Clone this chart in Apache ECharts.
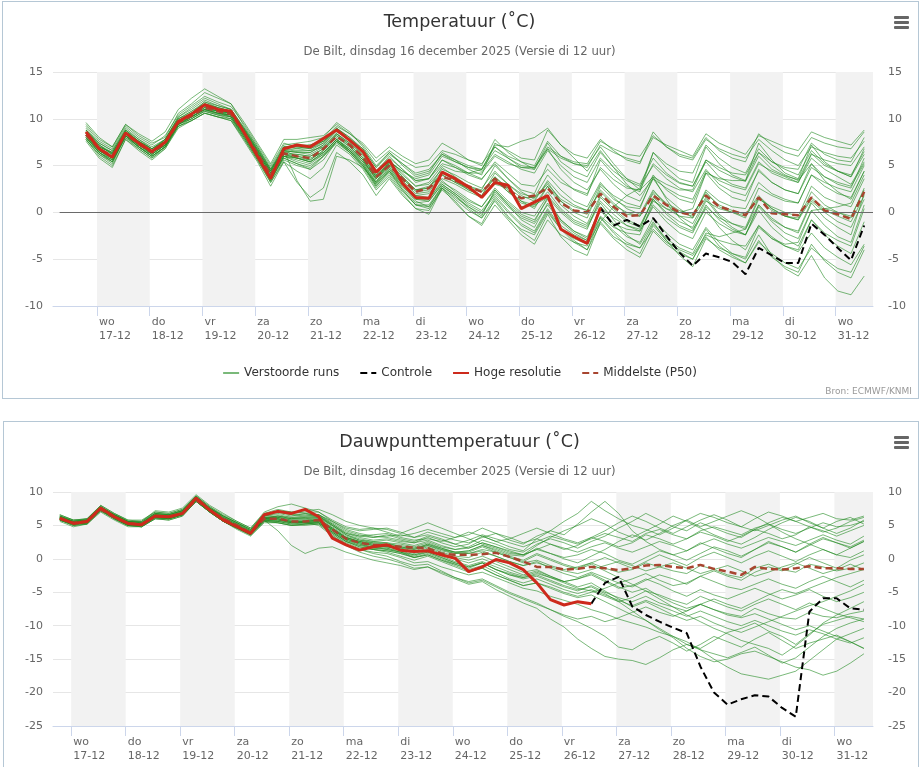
<!DOCTYPE html>
<html>
<head>
<meta charset="utf-8">
<script src="https://cdn.jsdelivr.net/npm/echarts@6/dist/echarts.min.js"></script>
<style>
  html, body { margin: 0; padding: 0; background: #fff; overflow: hidden; }
  .chart { position: absolute; left: 0; width: 919px; height: 400px; }
  .frame { position: absolute; border: 1px solid #b5c7d5; pointer-events: none; }
</style>
</head>
<body>
<div id="tempChart" class="chart" style="top:0"></div>
<div class="frame" style="left:2px; top:1px; width:915px; height:396px"></div>
<div id="dewChart" class="chart" style="top:420px"></div>
<div class="frame" style="left:3px; top:421px; width:914px; height:396px"></div>
<script>
// uren vanaf wo 17-12 00:00 (6-uurlijkse stappen)
var HOURS = [-5,1,7,13,19,25,31,37,43,49,55,61,67,73,79,85,91,97,103,109,
  115,121,127,133,139,145,151,157,163,169,175,181,187,193,199,205,211,217,223,229,
  235,241,247,253,259,265,271,277,283,289,295,301,307,313,319,325,331,337,343,349];
var DAY_NAMES = ['wo','do','vr','za','zo','ma','di','wo','do','vr','za','zo','ma','di','wo'];
var DAY_DATES = ['17-12','18-12','19-12','20-12','21-12','22-12','23-12','24-12','25-12','26-12','27-12','28-12','29-12','30-12','31-12'];
var DAY_TICKS = [0,24,48,72,96,120,144,168,192,216,240,264,288,312,336];
var BAND_STARTS = [0,48,96,144,192,240,288,336];

// ---- Temperatuur ----
var T_HRES = [8.6,6.8,5.9,8.5,7.4,6.5,7.5,9.7,10.5,11.5, 11.0,10.8,8.5,6.0,3.6,6.8,7.2,7.0,7.9,8.8,
  7.7,6.5,4.3,5.6,3.1,1.6,1.5,4.3,3.6,2.7, 1.6,3.2,2.9,0.4,1.1,1.8,-1.8,-2.6,-3.3,0.5];
var T_CONTROLE = [0.5,-1.4,-0.8,-1.5,-0.6,-2.5,-4.3,-5.7,-4.4,-4.8,-5.3,-6.6,-3.8,-4.6,-5.4,-5.4,-1.2,-2.4,-3.8,-5.1,-1.4]; // vanaf index 39
var T_P50 = [8.3,6.8,6.0,8.4,7.3,6.4,7.4,9.6,10.3,11.2, 10.8,10.5,8.5,6.3,4.0,6.3,6.0,5.8,6.8,8.1,
  7.2,5.9,3.8,5.0,3.6,2.2,2.6,3.8,3.4,2.8, 2.2,3.6,2.4,1.5,1.8,2.6,1.0,0.2,0.0,2.0,
  0.6,-0.4,-0.3,1.8,0.8,0.0,-0.3,1.8,0.6,0.2, -0.3,1.6,-0.1,-0.2,-0.3,1.6,0.2,-0.2,-0.7,2.2];

var T_RUN_01 = [8.6,7.0,6.3,8.8,7.5,6.6,7.8,10.0,10.8,11.6,11.0,10.7, 8.9,6.7,4.4,6.8,6.5,6.4,7.2,8.6,7.8,6.5,4.5,5.8,
  4.6,3.4,3.6,5.2,4.8,4.0,3.5,5.4,4.2,3.0,2.8,4.6, 3.2,2.5,2.0,4.8,3.5,2.6,2.4,5.2,4.0,3.1,2.8,5.6, 4.5,3.8,3.3,6.0,4.6,3.9,3.5,6.3,5.0,4.4,4.0,6.5];
var T_RUN_02 = [8.0,6.4,5.6,8.0,7.0,6.0,7.0,9.2,10.0,10.9,10.5,10.2, 8.0,5.8,3.4,5.8,5.2,4.6,5.6,7.6,6.4,5.0,3.0,4.4,
  2.6,1.0,1.2,3.0,2.0,1.0,0.2,2.0,0.6,-0.6,-1.2,0.8, -1.0,-2.2,-3.0,-0.5,-2.0,-3.2,-3.8,-1.2,-2.8,-3.8,-4.4,-1.8, -3.6,-4.6,-5.4,-3.0,-4.8,-5.8,-6.4,-3.4,-5.2,-6.4,-7.0,-4.0];
var T_RUN_03 = [9.2,7.6,6.8,9.2,8.0,7.2,8.2,10.4,11.4,12.4,11.8,11.3, 9.4,7.2,5.0,7.4,7.0,7.2,7.8,9.2,8.4,7.2,5.4,6.6,
  5.6,4.8,5.0,6.6,6.2,5.6,5.2,7.0,6.0,5.4,5.0,7.6, 6.0,5.2,4.8,7.2,6.4,5.8,5.4,8.0,7.2,6.6,6.0,8.4, 7.4,6.8,6.2,8.2,7.6,7.0,6.6,8.6,8.0,7.6,7.2,8.8];
var T_RUN_04 = [7.6,5.8,4.8,7.8,6.6,5.6,6.8,9.0,9.8,10.6,10.2,9.8, 7.6,5.4,2.8,5.4,3.2,1.6,2.6,6.4,5.4,4.0,1.8,3.6,
  1.8,0.4,-0.2,2.6,1.6,0.6,-0.4,2.4,0.8,-0.8,-1.6,1.0, -0.8,-2.0,-2.8,0.6,-0.6,-1.4,-1.8,1.6,0.4,-0.4,-0.6,2.4, 1.2,0.6,0.4,3.2,2.0,1.4,1.0,4.0,2.8,2.0,1.6,4.4];
var T_RUN_05 = [8.4,6.6,5.8,8.6,7.4,6.2,7.2,9.4,10.2,11.0,10.6,10.4, 8.2,6.0,3.8,6.0,5.8,5.6,6.6,8.0,7.0,5.6,3.6,4.8,
  3.2,1.8,2.0,3.6,3.0,2.2,1.6,3.4,2.2,1.2,0.4,2.8, 0.8,-0.4,-1.2,1.8,0.4,-0.8,-1.4,1.4,0.0,-1.0,-1.6,1.2, 0.4,0.0,-0.6,2.6,1.8,1.2,1.0,4.0,3.2,2.6,2.2,5.0];
var T_RUN_06 = [8.2,6.8,6.0,8.2,7.2,6.4,7.4,9.8,10.6,11.6,11.2,10.8, 8.6,6.4,4.2,6.4,6.2,6.0,6.8,8.2,7.0,5.6,3.4,4.6,
  3.0,1.6,1.4,3.2,2.4,1.4,0.6,2.4,1.0,-0.2,-0.8,1.4, -0.8,-2.0,-2.6,0.2,-1.4,-2.6,-3.2,-0.6,-2.2,-3.4,-4.0,-1.6, -3.2,-4.4,-5.0,-2.4,-4.6,-6.0,-6.8,-4.6,-7.0,-8.4,-8.8,-6.8];
var T_RUN_07 = [8.8,7.4,6.6,9.0,7.8,6.8,7.8,10.2,11.2,12.2,11.6,11.0, 9.0,7.0,4.8,7.2,7.4,7.6,8.0,9.6,8.6,7.0,5.0,6.4,
  5.0,3.8,4.2,6.4,5.6,4.6,4.0,7.4,6.6,5.8,5.6,8.8, 7.2,6.2,5.8,7.8,6.6,5.6,5.2,8.6,7.0,6.2,5.8,8.0, 6.6,5.8,5.4,8.4,7.2,6.4,6.0,8.0,7.4,7.0,6.8,8.6];
var T_RUN_08 = [7.8,6.2,5.2,8.2,7.0,6.0,7.0,9.4,10.0,10.8,10.4,10.0, 7.8,5.6,3.2,5.6,5.0,4.6,6.0,7.4,6.4,4.8,2.6,4.0,
  2.2,0.8,0.6,2.8,1.8,0.6,-0.2,2.2,0.8,-0.4,-1.0,1.6, 0.0,-1.2,-1.8,1.6,0.2,-1.0,-1.6,1.4,-0.2,-1.4,-2.0,0.8, -0.8,-1.8,-2.4,0.6,-1.0,-2.2,-2.8,0.2,-1.4,-2.6,-3.2,0.8];
var T_RUN_09 = [8.6,7.2,6.2,8.4,7.4,6.6,7.6,9.8,10.4,11.2,10.8,10.6, 8.6,6.6,4.4,6.6,6.8,7.0,7.6,9.0,7.8,6.4,4.2,5.6,
  4.2,2.8,3.0,4.6,4.0,3.2,2.6,4.4,3.0,1.8,1.2,3.4, 1.8,0.8,0.2,3.0,1.8,1.0,0.6,3.6,2.6,1.8,1.4,4.4, 3.4,2.8,2.4,5.2,4.4,3.8,3.2,5.8,4.6,3.8,3.0,5.4];
var T_RUN_10 = [8.0,6.6,5.8,8.6,7.6,6.8,7.6,9.6,10.4,11.4,10.8,10.4, 8.4,6.2,4.0,6.2,6.0,5.8,6.4,7.8,6.8,5.4,3.2,4.4,
  2.8,1.4,1.2,3.0,2.0,0.8,0.0,1.8,0.2,-1.2,-2.0,0.4, -1.6,-3.0,-4.0,-0.6,-2.2,-3.6,-4.4,-1.4,-3.0,-4.2,-5.0,-2.2, -2.6,-2.2,-1.8,1.4,0.6,0.0,-0.4,2.8,1.6,1.0,0.6,3.6];
var T_RUN_11 = [9.4,7.8,7.0,9.4,8.2,7.4,8.0,10.6,11.6,12.8,12.2,11.6, 9.6,7.4,5.2,7.8,7.8,8.0,8.2,9.4,8.4,7.4,5.8,7.0,
  6.0,5.2,5.6,7.4,6.6,5.6,5.0,7.8,6.4,5.4,4.6,7.4, 5.4,4.4,3.8,6.4,4.8,3.6,3.0,5.8,4.2,3.2,2.8,5.4, 3.8,3.0,2.6,5.4,4.2,3.6,3.2,6.2,5.6,5.2,5.0,7.0];
var T_RUN_12 = [8.2,6.4,5.4,8.0,6.8,5.8,6.8,9.2,9.8,10.6,10.2,9.8, 7.8,5.6,3.2,5.4,4.4,3.6,4.8,7.2,6.2,4.6,2.4,3.8,
  2.0,0.4,0.2,2.6,1.4,0.2,-0.6,1.6,0.0,-1.4,-2.2,0.2, -1.8,-3.2,-4.0,-1.2,-2.8,-4.0,-4.8,-2.0,-3.4,-4.4,-5.0,-2.6, -4.0,-4.8,-5.4,-3.2,-4.4,-5.4,-6.0,-3.8,-5.0,-6.0,-6.4,-3.6];
var T_RUN_13 = [8.4,6.8,6.0,8.4,7.2,6.4,7.4,9.6,10.2,11.0,10.6,10.4, 8.4,6.2,4.0,6.2,5.8,5.4,6.4,7.8,6.8,5.6,3.6,5.0,
  3.4,2.0,2.2,4.0,3.2,2.4,1.8,3.8,2.4,1.2,0.8,2.8, 1.2,0.2,-0.2,2.4,1.0,-0.2,-0.4,2.2,1.0,0.2,-0.2,2.0, 0.8,0.2,-0.2,1.8,0.4,-0.4,-0.8,1.4,0.2,-0.4,-1.0,1.8];
var T_RUN_14 = [8.6,7.0,6.4,8.8,7.6,6.6,7.6,10.0,10.6,11.4,11.0,10.6, 8.6,6.4,4.2,6.6,6.4,6.4,7.2,8.8,7.6,6.2,4.0,5.6,
  4.0,2.8,3.2,5.0,4.4,4.2,4.6,7.2,7.0,7.6,8.0,9.0, 7.2,5.8,4.4,6.6,4.8,3.0,1.8,3.6,1.6,0.4,-0.6,1.6, -0.2,-1.2,-1.8,0.8,-0.8,-1.6,-2.0,1.2,0.0,-1.0,-1.6,1.4];
var T_RUN_15 = [8.2,6.6,5.8,8.2,7.0,6.2,7.2,9.4,10.0,10.8,10.4,10.2, 8.2,6.0,3.6,6.0,5.6,5.2,6.2,7.8,6.6,5.2,3.0,4.6,
  2.8,1.2,0.6,2.6,1.0,-0.4,-1.2,1.4,-0.4,-2.0,-3.0,-0.2, -2.6,-4.0,-4.6,-1.0,0.6,1.8,2.6,6.4,5.2,4.4,4.2,7.2, 5.8,4.8,4.2,6.8,5.4,4.6,4.0,6.6,5.2,4.4,3.8,6.2];
var T_RUN_16 = [8.8,7.2,6.2,8.6,7.6,6.8,7.6,9.8,10.6,11.8,11.4,11.0, 8.8,6.6,4.4,6.6,6.0,5.6,6.6,8.4,7.4,6.2,4.0,5.2,
  3.8,2.4,2.6,4.4,3.4,2.4,1.8,4.2,3.0,2.0,1.6,4.0, 2.4,1.2,0.6,3.2,1.6,0.4,-0.2,2.4,0.8,-0.4,-1.2,1.4, -0.4,-1.6,-2.4,0.2,-1.6,-2.8,-3.6,-0.8,-2.4,-3.6,-4.4,-1.0];
var T_RUN_17 = [7.8,6.0,5.0,7.8,6.8,5.8,7.0,9.4,10.2,11.0,10.6,10.2, 8.0,5.8,3.6,5.8,5.2,4.8,6.0,7.6,6.6,5.0,2.8,4.4,
  2.4,0.8,0.4,2.4,1.2,-0.4,-1.4,0.8,-0.8,-2.4,-3.4,-0.8, -2.4,-3.2,-3.6,-0.4,-1.6,-2.2,-2.4,1.2,0.4,0.0,0.4,4.2, 3.6,3.4,3.4,6.4,5.4,4.8,4.6,7.4,6.2,5.6,5.4,8.0];
var T_RUN_18 = [8.0,6.4,5.6,8.2,7.2,6.4,7.2,9.6,10.4,11.2,10.8,10.6, 8.6,6.4,4.2,6.4,6.6,6.6,7.0,8.4,7.4,6.0,3.8,5.2,
  3.6,2.2,2.4,4.2,3.6,2.8,2.2,3.6,2.2,1.0,0.6,2.2, 0.4,-0.8,-1.4,1.2,-0.2,-1.4,-2.0,0.6,-1.0,-2.2,-2.8,0.0, -1.2,-2.0,-2.4,0.8,-0.6,-1.6,-2.2,1.0,-0.6,-1.6,-2.4,2.0];
var T_RUN_19 = [8.4,7.0,6.4,8.6,7.4,6.6,7.6,9.8,10.6,11.6,11.2,10.8, 8.8,6.8,4.6,6.6,3.4,1.2,1.4,6.0,5.6,4.8,3.2,5.4,
  4.4,3.6,4.0,6.0,5.4,4.8,4.4,6.2,5.4,4.6,4.2,6.6, 5.0,3.8,3.2,5.8,4.4,3.4,2.8,5.0,3.6,2.6,2.2,4.6, 3.0,2.2,1.8,4.4,3.2,2.4,2.0,4.8,3.8,3.2,2.8,5.2];
var T_RUN_20 = [9.6,8.0,7.0,9.4,8.4,7.6,8.6,11.0,12.2,13.2,12.4,11.6, 9.2,7.0,4.6,7.0,6.8,6.6,7.4,9.0,8.0,6.6,4.4,6.0,
  4.6,3.2,3.6,5.6,5.0,4.2,3.6,5.2,3.6,2.2,1.4,3.2, 1.2,0.0,-0.6,2.8,1.4,0.6,0.4,3.8,3.0,2.4,2.4,5.6, 4.8,4.2,4.0,6.4,5.0,4.0,3.4,5.2,3.4,2.2,1.4,4.4];
var T_RUN_21 = [8.4,6.6,5.6,8.4,7.2,6.2,7.2,9.6,10.6,11.4,11.0,10.6, 8.4,6.2,3.8,6.6,6.4,6.2,7.0,8.4,7.2,5.8,3.8,5.4,
  3.8,2.4,2.6,4.8,3.8,2.8,2.4,5.0,3.6,2.4,2.0,5.2, 3.6,2.4,1.8,5.6,4.0,2.8,2.2,6.4,4.8,3.6,3.2,7.0, 5.2,4.0,3.4,7.4,5.6,4.2,3.6,7.2,5.4,4.4,3.8,6.8];
var T_RUN_22 = [8.2,6.6,5.8,8.6,7.4,6.4,7.4,9.6,10.2,11.0,10.6,10.4, 8.4,6.2,3.8,6.2,5.8,5.4,6.4,7.8,6.6,5.2,3.2,4.8,
  3.0,1.4,1.4,3.4,2.2,1.2,0.6,2.6,1.2,0.0,-0.4,1.8, 0.2,-1.0,-1.6,1.0,-0.8,-2.4,-3.4,-1.0,-3.0,-4.6,-5.8,-2.8, -3.8,-4.4,-4.8,-1.6,-2.8,-3.6,-4.0,-0.8,-2.2,-3.0,-3.6,0.4];
var T_RUN_23 = [9.0,7.4,6.6,8.8,7.8,7.0,7.8,10.2,11.0,12.0,11.4,11.0, 9.0,6.8,4.6,7.0,7.2,7.2,7.6,9.0,8.0,6.8,4.8,6.2,
  5.2,4.2,4.6,6.2,5.6,5.0,4.6,6.6,5.8,5.0,4.8,7.0, 6.0,5.4,5.2,7.6,6.8,6.2,6.0,8.2,7.0,6.0,5.6,7.8, 6.8,6.2,5.8,7.8,6.6,5.6,5.0,7.0,6.4,6.0,5.8,7.6];
var T_RUN_24 = [8.6,6.8,5.8,8.4,7.4,6.4,7.6,9.8,10.4,11.4,11.0,10.8, 8.6,6.2,3.8,6.8,7.0,6.8,7.6,8.8,7.6,6.4,4.2,5.4,
  3.2,1.8,1.6,4.2,3.4,2.6,1.6,3.0,2.6,0.6,0.8,1.6, -1.4,-2.4,-3.0,0.4,-1.2,-1.8,-2.0,0.8,-0.6,-1.6,-2.2,0.6, -0.6,-1.2,-1.6,1.6,0.4,-0.4,-0.8,2.2,0.8,0.0,-0.6,2.6];
var T_RUN_25 = [7.8,6.2,5.4,8.2,7.0,6.0,7.0,9.2,9.8,10.6,10.2,10.0, 8.0,5.8,3.4,6.0,5.4,5.0,6.0,7.6,6.6,5.4,3.6,5.4,
  4.4,3.4,3.6,5.6,4.8,4.2,4.2,6.0,5.2,4.8,4.8,6.8, 5.8,5.2,5.0,7.0,5.2,3.6,2.4,3.8,1.4,-0.6,-1.8,0.4, -1.6,-3.0,-4.0,-1.4,-2.8,-3.4,-3.2,0.2,0.4,0.6,1.0,4.0];
var T_RUN_26 = [8.2,6.8,6.2,8.6,7.2,6.2,7.2,9.4,10.2,11.0,10.8,10.6, 8.6,6.4,4.2,6.2,6.2,6.0,6.8,8.2,7.2,5.8,3.8,5.0,
  3.6,2.4,2.8,4.0,3.2,2.6,2.2,3.8,2.6,1.6,1.6,3.0, 1.4,0.6,0.2,2.2,0.8,0.0,-0.4,2.0,0.8,0.0,-0.4,2.2, 0.6,0.0,-0.4,1.6,0.2,-0.4,-0.6,1.6,0.4,0.0,-0.4,2.4];
var T_RUN_27 = [8.0,6.4,5.4,8.2,7.0,6.0,7.0,9.4,10.2,11.2,10.8,10.2, 8.2,6.0,3.4,6.0,5.8,5.4,6.2,7.6,6.4,5.0,2.8,4.2,
  2.4,0.8,0.8,2.8,1.8,0.4,-0.6,1.2,-0.6,-1.8,-2.4,0.0, -1.8,-2.8,-3.4,-1.0,-2.6,-3.4,-3.8,-1.8,-3.2,-4.0,-4.6,-2.4, -3.0,-3.4,-3.6,-1.4,-2.6,-3.6,-4.2,-2.2,-3.8,-4.8,-5.6,-3.4];
var T_RUN_28 = [8.8,7.2,6.4,8.6,7.6,6.8,7.8,10.0,10.8,11.8,11.2,10.8, 8.8,6.6,4.4,7.0,7.0,6.8,7.4,8.8,7.8,6.8,4.8,6.4,
  5.2,4.0,4.4,6.2,5.4,4.8,4.6,7.0,5.8,4.8,4.6,6.8, 4.6,3.2,2.4,4.6,3.0,1.8,1.2,4.0,2.4,1.4,1.0,4.2, 2.6,1.6,1.2,4.6,3.2,2.4,2.0,5.2,3.8,3.0,2.6,5.8];
var T_RUNS = [T_RUN_01,T_RUN_02,T_RUN_03,T_RUN_04,T_RUN_05,T_RUN_06,T_RUN_07,T_RUN_08,T_RUN_09,T_RUN_10,
  T_RUN_11,T_RUN_12,T_RUN_13,T_RUN_14,T_RUN_15,T_RUN_16,T_RUN_17,T_RUN_18,T_RUN_19,T_RUN_20,
  T_RUN_21,T_RUN_22,T_RUN_23,T_RUN_24,T_RUN_25,T_RUN_26,T_RUN_27,T_RUN_28];

// ---- Dauwpunt ----
var D_HRES = [6.1,5.3,5.6,7.6,6.3,5.3,5.1,6.4,6.3,6.8, 9.1,7.3,5.8,4.8,3.8,6.6,7.1,6.8,7.4,6.3,
  3.1,2.1,1.3,1.8,2.1,1.3,1.1,1.2,0.6,0.1, -1.9,-1.2,-0.1,-0.6,-1.6,-3.6,-6.1,-6.9,-6.4,-6.7];
var D_CONTROLE = [-6.7,-3.6,-2.7,-7.1,-8.4,-9.4,-10.3,-11.1,-16.1,-20.0,-21.8,-21.0,-20.4,-20.6,-22.3,-23.6,-7.9,-5.9,-5.9,-7.4,-7.6]; // vanaf index 39
var D_P50 = [6.0,5.4,5.6,7.4,6.2,5.3,5.2,6.4,6.2,6.8, 8.8,7.3,6.0,5.0,3.9,6.0,6.0,5.6,5.6,5.8,
  4.4,3.0,2.4,2.1,2.0,1.8,1.7,1.6,0.8,0.6, 0.6,0.7,0.9,0.3,-0.4,-1.2,-1.2,-1.6,-1.5,-1.2,
  -1.4,-1.7,-1.4,-1.0,-0.9,-1.2,-1.4,-0.9,-1.5,-1.9, -2.4,-1.2,-1.5,-1.6,-1.4,-1.1,-1.4,-1.4,-1.5,-1.5];

var D_RUN_01 = [6.4,5.6,5.8,7.8,6.6,5.6,5.6,6.8,6.6,7.2,9.2,7.6, 6.2,5.2,4.2,6.4,6.6,6.2,6.4,6.6,5.4,4.2,3.6,3.2,
  3.6,3.0,2.6,3.4,2.8,2.2,2.8,3.6,3.0,2.4,1.8,2.6, 3.4,2.8,2.2,3.0,3.8,3.2,2.6,3.8,4.4,3.6,3.0,4.2, 4.8,4.2,3.6,4.6,5.2,4.4,3.8,4.6,5.4,4.8,5.0,5.6];
var D_RUN_02 = [5.8,5.0,5.2,7.2,6.0,5.0,4.8,6.0,6.0,6.6,8.8,7.0, 5.6,4.6,3.6,5.8,5.6,5.2,5.4,5.0,3.4,2.2,1.4,1.0,
  0.8,0.2,-0.6,-0.4,-1.2,-1.8,-2.4,-2.0,-2.8,-3.6,-4.4,-4.8, -5.6,-6.2,-6.8,-7.6,-8.2,-9.0,-9.6,-10.2,-11.0,-11.6,-12.4,-13.6, -15.0,-16.2,-17.2,-17.6,-18.0,-17.4,-16.8,-15.2,-13.6,-12.0,-11.2,-10.4];
var D_RUN_03 = [6.2,5.6,6.0,8.0,6.8,5.8,5.6,7.2,7.0,7.6,9.6,8.0, 6.8,5.6,4.6,7.0,7.8,8.2,7.6,7.0,5.8,4.8,4.4,4.6,
  4.0,3.4,3.8,4.4,3.8,3.2,3.6,4.6,3.8,2.8,2.2,3.4, 4.2,5.6,6.8,8.6,7.2,6.0,5.0,4.4,3.6,4.6,5.8,6.8, 6.2,5.4,4.8,6.0,7.0,6.4,5.6,6.2,6.8,6.0,5.8,6.4];
var D_RUN_04 = [6.0,5.2,5.4,7.4,6.2,5.2,5.0,6.2,6.0,6.6,8.6,7.0, 5.6,4.6,3.6,5.6,5.4,5.0,5.2,5.4,4.0,2.6,1.8,1.4,
  1.2,0.8,0.2,0.6,-0.2,-0.8,-1.4,-0.6,-1.6,-2.4,-3.0,-2.6, -3.4,-4.2,-4.8,-4.0,-5.0,-5.8,-6.4,-5.6,-6.6,-7.2,-7.8,-6.8, -7.6,-8.2,-8.6,-7.4,-8.2,-8.8,-9.0,-8.0,-8.6,-8.8,-8.2,-7.8];
var D_RUN_05 = [6.0,5.4,5.8,7.6,6.4,5.4,5.2,6.6,6.4,7.0,9.0,7.4, 6.0,5.0,4.0,6.2,6.2,5.8,5.8,6.0,4.6,3.2,2.6,2.2,
  2.2,2.0,1.6,2.0,1.2,0.8,0.8,1.4,1.0,0.2,-0.6,-0.2, -1.0,-1.6,-1.2,-0.6,-1.4,-2.0,-1.6,-0.6,-1.2,-1.8,-2.2,-1.0, -1.6,-2.4,-2.8,-1.4,-0.8,-1.6,-2.0,-0.8,-1.2,-1.8,-1.4,-0.6];
var D_RUN_06 = [6.2,5.4,5.6,7.4,6.4,5.4,5.2,6.4,6.2,6.8,9.0,7.2, 5.8,4.8,3.8,5.8,4.2,2.0,0.8,1.6,1.8,1.0,0.4,-0.2,
  -0.6,-1.0,-1.6,-1.2,-2.0,-2.8,-3.4,-3.0,-4.0,-5.0,-5.8,-6.6, -7.6,-8.6,-9.4,-10.4,-11.6,-13.2,-13.6,-12.4,-11.6,-12.6,-13.8,-12.8, -11.6,-12.4,-13.2,-12.0,-11.0,-12.2,-13.4,-12.6,-12.0,-11.4,-12.4,-13.4];
var D_RUN_07 = [6.2,5.6,5.6,7.6,6.4,5.4,5.4,6.6,6.4,7.0,9.2,7.4, 6.0,5.0,4.0,6.4,6.8,6.4,6.8,6.6,5.2,3.8,3.2,2.8,
  3.0,2.6,2.4,3.2,2.4,1.8,2.2,3.4,2.6,1.8,1.2,3.0, 4.2,3.6,5.2,7.0,8.6,6.8,4.2,2.6,1.4,0.6,1.2,2.4, 1.6,0.8,0.2,1.4,2.6,1.8,1.0,2.2,3.2,2.4,1.8,2.8];
var D_RUN_08 = [5.6,4.8,5.2,7.0,5.8,4.8,4.8,6.0,5.8,6.4,8.6,7.0, 5.6,4.6,3.6,5.8,5.8,5.4,5.6,5.6,4.4,3.0,2.2,1.6,
  1.6,1.2,0.6,1.0,0.2,-0.6,-1.2,-0.6,-1.6,-2.2,-2.8,-2.4, -3.2,-4.0,-4.6,-4.2,-5.2,-6.4,-7.8,-9.2,-10.6,-11.8,-13.4,-14.6, -15.4,-15.0,-14.2,-13.8,-14.6,-15.4,-16.2,-16.6,-17.4,-16.8,-15.6,-14.2];
var D_RUN_09 = [6.2,5.4,5.4,7.4,6.2,5.2,5.0,6.4,6.2,6.8,8.8,7.2, 5.8,4.8,3.8,6.0,6.0,5.4,5.4,5.4,3.8,2.4,1.6,1.4,
  1.0,0.4,-0.2,0.4,-0.4,-1.2,-2.0,-1.4,-2.4,-3.2,-4.0,-3.6, -4.2,-5.0,-5.6,-5.0,-4.4,-3.6,-4.2,-3.2,-2.4,-3.0,-3.8,-2.6, -1.8,-2.6,-3.2,-2.0,-1.2,-1.8,-0.8,0.2,-0.6,-1.4,-0.2,0.6];
var D_RUN_10 = [6.4,5.8,6.0,7.8,6.6,5.6,5.6,7.0,6.8,7.4,9.4,7.8, 6.4,5.4,4.4,6.8,7.4,7.0,6.8,6.4,5.0,3.8,3.4,3.6,
  3.8,3.2,2.8,3.0,2.6,3.2,4.0,3.4,2.6,3.0,3.8,4.6, 3.8,3.0,2.4,3.2,4.2,5.4,6.4,5.6,4.6,3.8,4.8,5.8, 6.6,5.8,4.8,4.2,5.0,5.8,6.4,5.4,4.6,5.6,6.2,5.2];
var D_RUN_11 = [5.8,5.2,5.4,7.2,6.0,5.0,4.8,6.2,6.0,6.6,8.6,7.0, 5.6,4.4,3.4,5.4,5.4,5.0,5.0,5.2,3.6,2.0,1.0,0.4,
  0.0,-0.6,-1.4,-1.2,-2.2,-3.0,-3.8,-3.4,-4.6,-5.6,-6.6,-7.4, -9.0,-10.2,-12.0,-13.4,-14.6,-15.0,-15.2,-15.8,-14.8,-13.6,-12.8,-13.4, -12.2,-11.0,-10.4,-9.6,-10.8,-11.6,-12.8,-11.2,-9.8,-9.2,-8.6,-9.0];
var D_RUN_12 = [6.6,5.8,5.8,7.6,6.6,5.6,5.4,6.6,6.6,7.2,9.0,7.6, 6.2,5.2,4.2,6.2,6.2,6.0,6.2,6.2,5.0,3.6,3.0,2.6,
  2.8,2.4,2.0,2.6,1.8,1.4,1.6,2.4,1.8,1.2,0.6,1.4, 2.2,1.6,1.0,1.8,2.4,1.6,1.0,1.8,2.6,2.0,1.2,2.2, 3.0,2.2,1.6,2.4,3.2,2.6,2.0,2.8,3.6,2.8,2.2,3.4];
var D_RUN_13 = [5.8,5.0,5.4,7.4,6.0,5.0,5.0,6.2,6.0,6.6,8.8,7.2, 5.8,4.8,3.8,5.8,5.6,5.4,5.6,5.8,4.4,3.0,2.4,2.0,
  1.8,1.4,1.0,1.6,0.8,0.2,-0.2,0.4,-0.4,-1.2,-2.0,-1.6, -2.6,-3.4,-4.2,-3.6,-4.8,-6.0,-7.2,-6.4,-7.4,-8.4,-9.2,-8.6, -9.6,-10.4,-11.0,-10.2,-9.4,-8.6,-7.8,-7.0,-6.4,-5.6,-4.8,-3.8];
var D_RUN_14 = [6.0,5.4,5.6,7.6,6.2,5.2,5.2,6.6,6.2,6.8,9.0,7.2, 5.8,4.8,3.8,6.2,6.4,6.2,6.2,6.4,5.0,3.6,2.8,2.6,
  2.4,1.8,1.4,2.2,1.6,1.0,1.2,2.0,1.4,0.6,0.4,1.6, 0.8,0.0,-0.6,0.4,1.4,2.6,3.6,2.8,3.8,5.0,5.8,4.8, 5.6,6.4,7.2,6.4,5.2,4.0,3.0,2.2,1.4,0.6,1.6,2.6];
var D_RUN_15 = [6.2,5.6,5.8,7.6,6.4,5.4,5.2,6.4,6.4,7.0,9.0,7.4, 6.2,5.2,4.0,6.0,6.0,5.6,5.6,5.8,4.4,3.0,2.4,2.0,
  1.8,1.6,1.2,1.8,1.0,0.4,0.2,1.0,0.4,-0.4,-1.0,-0.4, -1.4,-2.2,-2.8,-2.0,-2.8,-3.6,-3.0,-2.2,-3.2,-4.0,-3.6,-2.6, -3.4,-4.2,-4.6,-3.8,-3.0,-3.8,-4.4,-3.4,-2.6,-3.4,-4.2,-3.2];
var D_RUN_16 = [6.0,5.2,5.6,7.4,6.2,5.2,5.0,6.4,6.2,6.8,8.8,7.2, 5.8,4.8,3.8,6.0,6.4,6.0,6.0,6.0,4.6,3.2,2.6,2.4,
  2.2,1.8,1.4,2.0,1.4,0.8,1.0,1.8,1.0,0.2,-0.4,0.6, -0.2,-1.0,-1.6,-0.8,-1.8,-2.8,-3.8,-4.8,-6.0,-7.2,-8.4,-9.4, -10.4,-11.2,-12.2,-12.8,-13.4,-14.4,-13.0,-11.4,-9.6,-8.4,-7.4,-6.4];
var D_RUN_17 = [6.4,5.6,5.8,7.8,6.6,5.6,5.4,6.8,6.6,7.2,9.4,7.6, 6.4,5.4,4.4,6.6,7.2,6.8,7.0,7.0,5.6,4.4,3.8,3.4,
  3.2,2.8,2.4,2.8,2.0,1.4,1.8,2.8,2.2,1.4,1.0,2.2, 3.0,2.4,1.6,2.6,3.4,4.6,5.6,6.8,5.8,4.8,4.2,5.4, 4.6,3.8,3.2,4.4,5.4,6.2,5.6,4.8,4.0,4.6,5.6,6.2];
var D_RUN_18 = [5.8,5.2,5.4,7.4,6.2,5.2,5.0,6.2,6.0,6.6,8.8,7.2, 5.8,4.8,3.8,5.8,6.0,5.6,5.4,5.4,4.0,2.6,2.0,1.8,
  1.4,1.0,0.6,1.2,0.4,-0.4,-1.0,-0.4,-1.2,-2.0,-2.6,-2.0, -2.8,-3.6,-4.4,-4.8,-5.6,-6.4,-5.8,-4.8,-5.4,-6.2,-6.8,-5.6, -6.4,-7.2,-7.8,-6.8,-6.0,-6.8,-7.6,-6.6,-7.4,-8.2,-8.8,-9.4];
var D_RUN_19 = [6.2,5.4,5.6,7.6,6.4,5.4,5.2,6.6,6.4,7.0,9.0,7.4, 6.0,5.0,4.0,6.2,6.4,6.0,6.0,6.2,4.8,3.4,2.8,2.4,
  2.4,2.2,1.8,2.4,1.6,1.0,1.2,2.0,1.2,0.4,-0.2,0.8, 0.0,-0.8,-1.4,-0.6,0.2,-0.6,-1.4,-0.4,0.6,-0.2,-1.0,0.2, 1.0,0.2,-0.6,0.4,1.2,0.4,-0.4,0.6,1.4,0.6,0.2,1.2];
var D_RUN_20 = [6.0,5.2,5.4,7.4,6.2,5.2,5.0,6.4,6.2,6.8,8.8,7.2, 5.8,4.8,3.8,6.0,6.2,5.8,5.8,5.8,4.6,3.2,2.4,2.0,
  1.8,1.4,0.8,1.4,0.6,0.0,-0.6,0.0,-0.8,-1.6,-2.4,-1.8, -2.6,-3.4,-3.0,-2.2,-3.2,-4.2,-5.0,-4.4,-5.6,-6.6,-7.4,-6.8, -7.6,-8.4,-8.8,-8.2,-9.0,-9.8,-10.6,-10.0,-10.8,-11.6,-12.4,-13.4];
var D_RUN_21 = [6.2,5.4,5.8,7.8,6.6,5.6,5.4,6.8,6.6,7.2,9.2,7.6, 6.4,5.4,4.2,6.4,7.0,6.6,6.4,6.4,5.2,4.0,3.4,3.2,
  3.4,3.6,3.2,4.0,3.4,2.8,2.4,3.2,3.8,3.2,2.4,3.0, 2.2,1.4,2.0,3.2,2.6,1.8,2.4,3.6,3.0,2.2,3.0,4.0, 3.4,2.6,3.4,4.4,3.8,3.0,3.6,4.8,4.2,3.4,4.2,5.0];
var D_RUN_22 = [6.0,5.2,5.4,7.4,6.2,5.2,5.0,6.4,6.2,6.8,8.8,7.2, 5.8,4.8,3.8,6.0,5.8,5.4,5.4,5.6,4.2,2.8,2.2,1.8,
  1.6,1.0,0.4,1.0,0.2,-0.6,-1.2,-0.6,-1.6,-2.4,-2.8,-2.2, -2.8,-3.4,-3.0,-2.4,-3.4,-4.4,-4.0,-3.0,-3.8,-4.8,-5.6,-4.6, -5.4,-6.0,-5.2,-4.4,-5.2,-6.0,-5.4,-4.6,-5.6,-6.4,-5.8,-5.0];
var D_RUN_23 = [6.6,5.8,6.0,8.0,6.8,5.8,5.8,7.0,6.8,7.4,9.4,7.8, 6.6,5.6,4.6,6.8,7.0,6.6,6.6,6.6,5.6,4.6,4.2,4.4,
  4.6,4.0,3.2,3.6,3.0,2.2,1.6,2.4,1.8,1.0,0.6,2.0, 3.2,4.2,5.0,6.0,5.2,4.0,3.2,4.2,5.2,6.4,5.6,4.6, 3.6,2.8,2.2,3.2,4.4,5.4,6.2,5.6,4.6,3.8,4.6,5.8];
var D_RUN_24 = [5.8,5.0,5.2,7.2,6.0,5.0,4.8,6.0,5.8,6.4,8.6,7.0, 5.6,4.6,3.6,5.6,5.4,5.0,5.2,5.2,3.8,2.2,1.4,0.8,
  0.4,-0.4,-1.0,-0.8,-1.8,-2.8,-3.6,-3.2,-4.2,-5.2,-6.0,-6.8, -7.6,-8.4,-9.0,-8.6,-9.4,-8.8,-8.0,-7.2,-8.0,-8.6,-7.8,-6.8, -6.0,-6.8,-7.4,-6.4,-5.4,-4.6,-5.2,-4.4,-3.6,-2.8,-2.2,-1.6];
var D_RUN_25 = [6.2,5.4,5.6,7.4,6.2,5.4,5.2,6.4,6.2,6.8,8.8,7.4, 6.0,5.0,4.0,6.0,6.0,5.6,5.6,5.8,4.4,3.2,2.6,2.2,
  2.0,1.6,1.6,2.2,1.4,1.0,0.8,1.2,0.4,-0.4,-1.0,-0.6, -1.2,-1.8,-2.2,-1.6,-1.0,-0.4,-1.0,-1.8,-1.2,-0.6,-1.4,-2.2, -1.6,-1.0,-1.8,-2.6,-2.0,-1.2,-0.6,-1.4,-2.2,-1.6,-0.8,-1.6];
var D_RUN_26 = [5.8,5.2,5.4,7.2,6.0,5.0,5.0,6.2,6.0,6.6,8.6,7.0, 5.6,4.6,3.6,5.6,5.6,5.2,5.2,5.4,4.0,2.6,1.8,1.4,
  1.2,0.8,0.2,0.6,-0.2,-1.0,-1.8,-1.4,-2.4,-3.2,-4.0,-3.6, -4.4,-5.2,-5.8,-5.4,-6.4,-7.4,-8.4,-9.2,-10.4,-11.6,-12.8,-13.6, -14.2,-14.8,-14.0,-13.2,-14.4,-15.6,-14.8,-13.2,-11.6,-10.4,-9.6,-9.0];
var D_RUN_27 = [6.4,5.6,5.8,7.6,6.6,5.6,5.4,6.8,6.6,7.2,9.2,7.6, 6.4,5.4,4.4,6.6,7.2,7.0,7.2,7.4,6.6,5.6,5.0,4.6,
  4.4,3.8,4.6,5.4,4.6,3.8,3.0,2.2,1.6,0.8,0.6,1.4, 0.8,0.2,0.6,1.4,0.8,-0.2,-0.8,0.2,1.2,0.6,-0.2,0.8, 1.8,1.2,0.4,1.4,2.4,1.8,1.0,2.0,3.0,2.4,1.6,2.6];
var D_RUN_28 = [6.0,5.2,5.6,7.4,6.2,5.2,5.0,6.4,6.2,6.8,8.8,7.2, 5.8,4.8,3.8,5.8,5.8,5.6,5.4,5.6,4.2,2.8,2.0,1.6,
  1.4,1.0,0.2,0.8,0.0,-0.8,-1.6,-1.0,-2.0,-3.0,-3.6,-3.0, -3.8,-4.6,-5.2,-4.6,-5.4,-6.2,-7.0,-6.2,-7.0,-7.8,-8.6,-7.8, -8.6,-9.4,-10.0,-9.2,-10.0,-10.8,-11.4,-10.6,-11.2,-12.0,-12.6,-11.8];
var D_RUNS = [D_RUN_01,D_RUN_02,D_RUN_03,D_RUN_04,D_RUN_05,D_RUN_06,D_RUN_07,D_RUN_08,D_RUN_09,D_RUN_10,
  D_RUN_11,D_RUN_12,D_RUN_13,D_RUN_14,D_RUN_15,D_RUN_16,D_RUN_17,D_RUN_18,D_RUN_19,D_RUN_20,
  D_RUN_21,D_RUN_22,D_RUN_23,D_RUN_24,D_RUN_25,D_RUN_26,D_RUN_27,D_RUN_28];

var FONT = 'DejaVu Sans';
var SUBTITLE = 'De Bilt, dinsdag 16 december 2025 (Versie di 12 uur)';

function pairs(values, offset) {
  return values.map(function (v, i) { return [HOURS[i + offset], v]; });
}

function buildOption(cfg) {
  var series = [];
  // grijze dagbanden
  series.push({
    type: 'line', data: [], z: 0, silent: true,
    markArea: {
      silent: true,
      itemStyle: { color: '#f2f2f2' },
      data: BAND_STARTS.map(function (s) {
        return [{ xAxis: s }, { xAxis: Math.min(s + 24, cfg.xMax) }];
      })
    }
  });
  if (cfg.zeroLine) {
    series.push({
      type: 'line', data: [], z: 1, silent: true,
      markLine: {
        silent: true, symbol: 'none', label: { show: false },
        lineStyle: { color: '#6a6a6a', width: 1, type: 'solid' },
        data: [[{ coord: [-17, 0] }, { coord: [cfg.xMax, 0] }]]
      }
    });
  }
  cfg.runs.forEach(function (run) {
    series.push({
      name: 'Verstoorde runs', type: 'line', data: pairs(run, 0),
      symbol: 'none', silent: true, z: 2,
      lineStyle: { color: 'rgba(34,139,34,0.6)', width: 1 },
      itemStyle: { color: 'rgba(34,139,34,0.45)' }
    });
  });
  series.push({
    name: 'Middelste (P50)', type: 'line', data: pairs(cfg.p50, 0),
    symbol: 'none', silent: true, z: 3,
    lineStyle: { color: '#a84530', width: 2.5, type: [7, 4] },
    itemStyle: { color: '#a84530' }
  });
  series.push({
    name: 'Controle', type: 'line', data: pairs(cfg.controle, 39),
    symbol: 'none', silent: true, z: 4,
    lineStyle: { color: '#000', width: 2, type: [7, 4] },
    itemStyle: { color: '#000' }
  });
  series.push({
    name: 'Hoge resolutie', type: 'line', data: pairs(cfg.hres, 0),
    symbol: 'none', silent: true, z: 5,
    lineStyle: { color: '#cd2a1c', width: 3 },
    itemStyle: { color: '#cd2a1c' }
  });

  var yLabel = { color: '#666', fontSize: 11, fontFamily: FONT };
  return {
    animation: false,
    textStyle: { fontFamily: FONT },
    title: [
      { text: cfg.title, left: 'center', top: 8,
        textStyle: { fontSize: 17.5, fontWeight: 'normal', color: '#333', fontFamily: FONT } },
      { text: SUBTITLE, left: 'center', top: 41,
        textStyle: { fontSize: 11.7, fontWeight: 'normal', color: '#666', fontFamily: FONT } }
    ],
    legend: {
      data: ['Verstoorde runs', 'Controle', 'Hoge resolutie', 'Middelste (P50)'],
      top: 362, left: 'center', itemWidth: 16, itemHeight: 14, itemGap: 20,
      itemStyle: { opacity: 0 },
      textStyle: { fontSize: 12, color: '#333', fontFamily: FONT }
    },
    grid: { left: 53, right: 46, top: 72, height: 234 },
    xAxis: {
      type: 'value', min: cfg.xMin, max: cfg.xMax, z: 1,
      axisLine: { show: true, onZero: false, lineStyle: { color: '#ccd6eb' } },
      axisTick: { show: true, customValues: DAY_TICKS, length: 10, lineStyle: { color: '#ccd6eb' } },
      axisLabel: {
        customValues: DAY_TICKS, align: 'left', margin: 9, padding: [0, 0, 0, 2],
        color: '#666', fontSize: 11, lineHeight: 14, fontFamily: FONT,
        formatter: function (v) {
          var i = Math.round(v / 24);
          return DAY_NAMES[i] + '\n' + DAY_DATES[i];
        }
      },
      splitLine: { show: false }
    },
    yAxis: [
      { type: 'value', min: cfg.yMin, max: cfg.yMax, interval: 5, position: 'left', z: 1,
        axisLine: { show: false, onZero: false }, axisTick: { show: false },
        axisLabel: Object.assign({ margin: 10 }, yLabel),
        splitLine: { lineStyle: { color: '#e6e6e6' } } },
      { type: 'value', min: cfg.yMin, max: cfg.yMax, interval: 5, position: 'right', z: 1,
        axisLine: { show: false, onZero: false }, axisTick: { show: false },
        axisLabel: Object.assign({ margin: 15 }, yLabel),
        splitLine: { show: false } }
    ],
    graphic: [
      { type: 'rect', left: 894, top: 16, shape: { width: 15, height: 3, r: 1 }, style: { fill: '#666' } },
      { type: 'rect', left: 894, top: 21, shape: { width: 15, height: 3, r: 1 }, style: { fill: '#666' } },
      { type: 'rect', left: 894, top: 26, shape: { width: 15, height: 3, r: 1 }, style: { fill: '#666' } },
      { type: 'text', right: 7, top: 387,
        style: { text: 'Bron: ECMWF/KNMI', fill: '#999', fontSize: 9, fontFamily: FONT } }
    ],
    series: series
  };
}

var tempChart = echarts.init(document.getElementById('tempChart'));
tempChart.setOption(buildOption({
  title: 'Temperatuur (˚C)', xMin: -20, xMax: 353, yMin: -10, yMax: 15, zeroLine: true,
  runs: T_RUNS, p50: T_P50, controle: T_CONTROLE, hres: T_HRES
}));

var dewChart = echarts.init(document.getElementById('dewChart'));
dewChart.setOption(buildOption({
  title: 'Dauwpunttemperatuur (˚C)', xMin: -8, xMax: 353, yMin: -25, yMax: 10, zeroLine: false,
  runs: D_RUNS, p50: D_P50, controle: D_CONTROLE, hres: D_HRES
}));
</script>
</body>
</html>
